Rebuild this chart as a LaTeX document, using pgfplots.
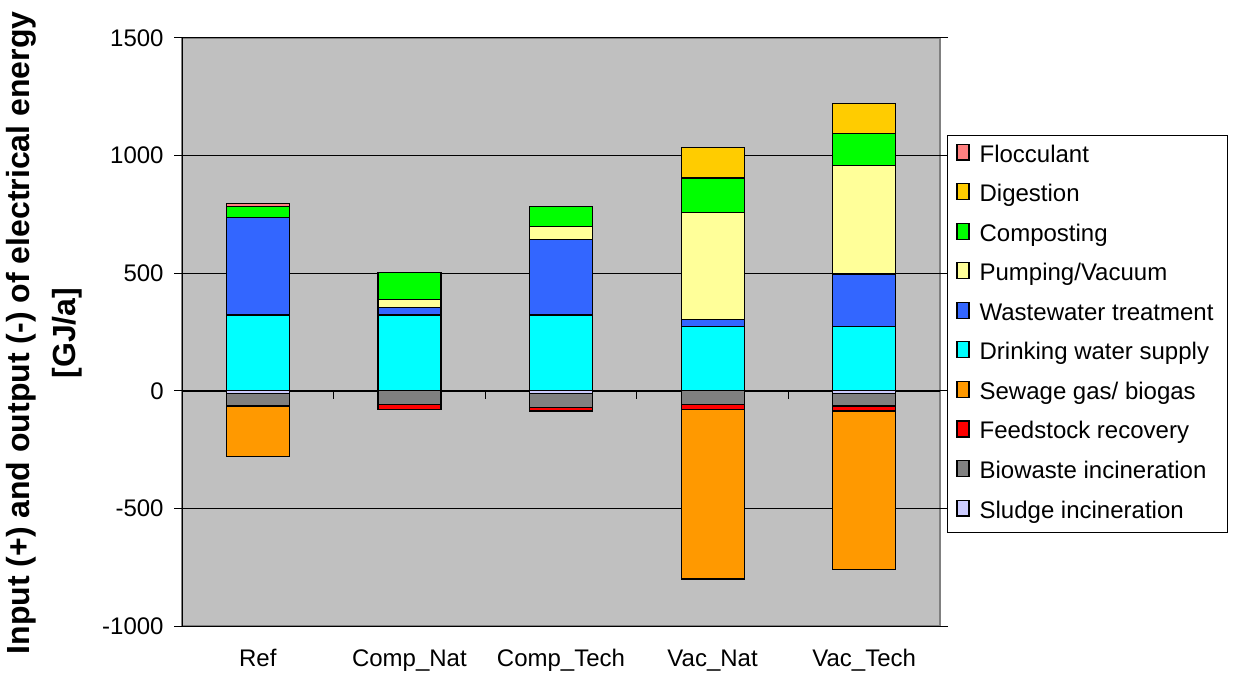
\documentclass[border=0pt]{standalone}
\usepackage{pgfplots}
\pgfplotsset{compat=1.18}
\usepackage{fontspec}
\setmainfont{Liberation Sans}
\definecolor{cFloc}{HTML}{FF8080}
\definecolor{cDig}{HTML}{FFCC00}
\definecolor{cComp}{HTML}{00FF00}
\definecolor{cPump}{HTML}{FFFF99}
\definecolor{cWW}{HTML}{3366FF}
\definecolor{cDrink}{HTML}{00FFFF}
\definecolor{cSew}{HTML}{FF9900}
\definecolor{cFeed}{HTML}{FF0000}
\definecolor{cBio}{HTML}{808080}
\definecolor{cSludge}{HTML}{CCCCFF}
\definecolor{cBg}{HTML}{C0C0C0}
\pgfplotsset{/pgfplots/ybar legend/.style={/pgfplots/legend image code/.code={\draw[##1,draw=black,line width=0.5bp] (0bp,-3.3bp) rectangle (6.6bp,3.3bp);}}}
\begin{document}
\begin{tikzpicture}
\useasboundingbox (0,0) rectangle (616.5bp,336.5bp);
\begin{axis}[
 at={(91bp,23.5bp)}, anchor=south west,
 width=379bp, height=294bp, scale only axis,
 ybar stacked, bar width=31.5bp,
 xmin=-0.5, xmax=4.5, ymin=-1000, ymax=1500,
 xtick={0,1,2,3,4}, xticklabels={Ref,Comp\_Nat,Comp\_Tech,Vac\_Nat,Vac\_Tech},
 ytick={-1000,-500,0,500,1000,1500},
 x tick style={draw=none}, y tick style={black, line width=0.5bp},
 tick align=outside, major tick length=4bp,
 ymajorgrids, grid style={black, line width=0.5bp},
 axis line style={draw=none},
 axis background/.style={fill=cBg, draw=gray, line width=0.75bp},
 ticklabel style={font=\fontsize{12bp}{14bp}\selectfont},
 /pgf/number format/assume math mode=true,
 /pgf/number format/1000 sep={},
 yticklabel style={inner sep=0pt, xshift=-5bp},
 xticklabel style={inner sep=0pt, yshift=-7bp, text height=9bp, text depth=3bp},
 reverse legend,
 legend style={at={(1.0092,0.835)}, anchor=north west, draw=black, line width=0.5bp, fill=white,
   font=\fontsize{12bp}{14bp}\selectfont, inner xsep=4.5bp, inner ysep=4bp, row sep=7.5bp, column sep=2.5bp,
   nodes={inner ysep=0pt, inner xsep=2.5bp, text height=9bp, text depth=3bp}},
 legend cell align=left,
]
% negative part (stacked downward)
\addplot[fill=cSludge, draw=black, line width=0.6bp] coordinates {(0,-11) (1,0) (2,-11) (3,0) (4,-11)};
\addlegendentry{Sludge incineration}
\addplot[fill=cBio, draw=black, line width=0.6bp] coordinates {(0,-53) (1,-57) (2,-60) (3,-57) (4,-54)};
\addlegendentry{Biowaste incineration}
\addplot[fill=cFeed, draw=black, line width=0.6bp] coordinates {(0,-4) (1,-22) (2,-15) (3,-24) (4,-21)};
\addlegendentry{Feedstock recovery}
\addplot[fill=cSew, draw=black, line width=0.6bp] coordinates {(0,-211) (1,0) (2,0) (3,-719) (4,-675)};
\addlegendentry{Sewage gas/ biogas}
% positive part
\addplot[fill=cDrink, draw=black, line width=0.6bp] coordinates {(0,322) (1,322) (2,322) (3,275) (4,275)};
\addlegendentry{Drinking water supply}
\addplot[fill=cWW, draw=black, line width=0.6bp] coordinates {(0,414) (1,31) (2,320) (3,27) (4,222)};
\addlegendentry{Wastewater treatment}
\addplot[fill=cPump, draw=black, line width=0.6bp] coordinates {(0,0) (1,34) (2,56) (3,456) (4,460)};
\addlegendentry{Pumping/Vacuum}
\addplot[fill=cComp, draw=black, line width=0.6bp] coordinates {(0,49) (1,116) (2,87) (3,147) (4,136)};
\addlegendentry{Composting}
\addplot[fill=cDig, draw=black, line width=0.6bp] coordinates {(0,0) (1,0) (2,0) (3,128) (4,128)};
\addlegendentry{Digestion}
\addplot[fill=cFloc, draw=black, line width=0.6bp] coordinates {(0,13) (1,0) (2,0) (3,0) (4,0)};
\addlegendentry{Flocculant}
\draw[black, line width=0.75bp] (axis cs:-0.5,0) -- (axis cs:4.5,0);
\pgfplotsinvokeforeach{0.5,1.5,2.5,3.5}{\draw[black,line width=0.5bp] (axis cs:#1,0) -- ([yshift=-4bp]axis cs:#1,0);}
\draw[black, line width=0.75bp] (rel axis cs:0,0) -- (rel axis cs:0,1);
\end{axis}
\node[rotate=90, align=center, font=\fontsize{16bp}{23bp}\selectfont\bfseries] at (22bp,170bp) {Input (+) and output (-) of electrical energy\\{[GJ/a]}};
\end{tikzpicture}
\end{document}
